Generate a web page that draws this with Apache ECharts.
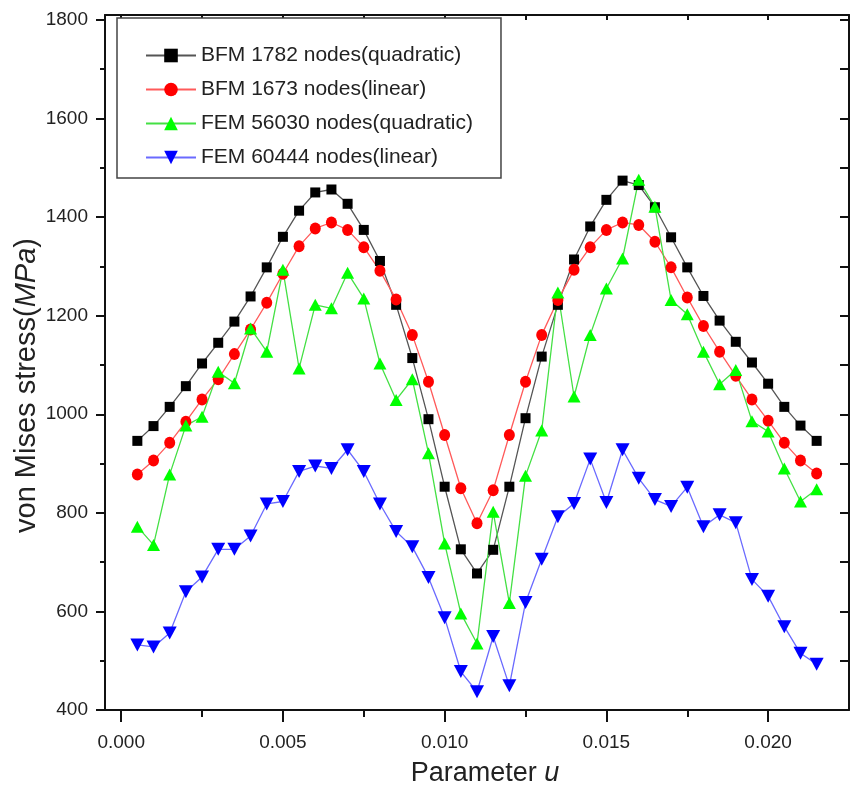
<!DOCTYPE html>
<html>
<head>
<meta charset="utf-8">
<script src="https://cdn.jsdelivr.net/npm/echarts@6/dist/echarts.min.js"></script>
<style>
html,body{margin:0;padding:0;background:#fff;}
#chart{width:850px;height:787px;}
</style>
</head>
<body>
<div id="chart"></div>
<script>
// Parameter u values
var u = [0.0005, 0.0010, 0.0015, 0.0020, 0.0025, 0.0030, 0.0035, 0.0040, 0.0045, 0.0050,
         0.0055, 0.0060, 0.0065, 0.0070, 0.0075, 0.0080, 0.0085, 0.0090, 0.0095, 0.0100,
         0.0105, 0.0110, 0.0115, 0.0120, 0.0125, 0.0130, 0.0135, 0.0140, 0.0145, 0.0150,
         0.0155, 0.0160, 0.0165, 0.0170, 0.0175, 0.0180, 0.0185, 0.0190, 0.0195, 0.0200,
         0.0205, 0.0210, 0.0215];

var bfmQuadratic = [946, 976, 1015, 1057, 1103, 1145, 1188, 1239, 1298, 1360,
                    1413, 1450, 1456, 1427, 1374, 1311, 1222, 1114, 990, 853,
                    726, 677, 725, 853, 992, 1117, 1222, 1314, 1381, 1435,
                    1474, 1465, 1420, 1359, 1298, 1240, 1190, 1147, 1105, 1062,
                    1015, 977, 946];

var bfmLinear = [878, 906, 942, 985, 1030, 1071, 1122, 1172, 1226, 1285,
                 1341, 1377, 1389, 1374, 1339, 1291, 1233, 1161, 1066, 958,
                 850, 779, 846, 958, 1066, 1161, 1232, 1293, 1339, 1374,
                 1389, 1384, 1350, 1298, 1237, 1179, 1127, 1078, 1030, 987,
                 942, 906, 880];

var femQuadratic = [772, 735, 878, 977, 995, 1086, 1063, 1174, 1127, 1293,
                    1093, 1222, 1215, 1287, 1235, 1103, 1029, 1071, 921, 738,
                    596, 535, 802, 617, 875, 967, 1247, 1036, 1161, 1255,
                    1316, 1476, 1421, 1232, 1203, 1127, 1061, 1090, 986, 965,
                    890, 823, 848];

var femLinear = [532, 528, 556, 640, 670, 726, 726, 753, 818, 823,
                 884, 895, 890, 928, 884, 818, 762, 731, 669, 587,
                 478, 437, 549, 449, 618, 706, 792, 819, 909, 821,
                 928, 870, 827, 813, 852, 772, 796, 780, 665, 631,
                 569, 515, 493];

var seriesNames = ['BFM 1782 nodes(quadratic)', 'BFM 1673 nodes(linear)',
                   'FEM 56030 nodes(quadratic)', 'FEM 60444 nodes(linear)'];

var xMajorTicks = [0.000, 0.005, 0.010, 0.015, 0.020];
var xMinorTicks = [0.0025, 0.0075, 0.0125, 0.0175];
var xAllTicks = [0.000, 0.0025, 0.005, 0.0075, 0.010, 0.0125, 0.015, 0.0175, 0.020];
var yMajorTicks = [400, 600, 800, 1000, 1200, 1400, 1600, 1800];
var yMinorTicks = [500, 700, 900, 1100, 1300, 1500, 1700];
var yAllTicks = [400, 500, 600, 700, 800, 900, 1000, 1100, 1200, 1300, 1400, 1500, 1600, 1700, 1800];

function pairs(vals) { return vals.map(function (v, i) { return [u[i], v]; }); }

var FONT = "'Liberation Sans', Arial, sans-serif";
var XMIN = -0.0005, XMAX = 0.0225, YMIN = 400, YMAX = 1810;

var chart = echarts.init(document.getElementById('chart'), null, {renderer: 'canvas'});

var baseX = {type: 'value', min: XMIN, max: XMAX, splitLine: {show: false}};
var baseY = {type: 'value', min: YMIN, max: YMAX, splitLine: {show: false}};

var option = {
  backgroundColor: '#ffffff',
  animation: false,
  textStyle: {fontFamily: FONT},
  grid: {left: 105, right: 1, top: 15, bottom: 77, containLabel: false, outerBoundsMode: 'none'},
  legend: {
    orient: 'vertical',
    left: 117, top: 18,
    padding: [27, 28, 10, 28],
    itemGap: 13,
    itemWidth: 50, itemHeight: 17,
    borderColor: '#444', borderWidth: 1.5,
    backgroundColor: '#fff',
    textStyle: {fontSize: 21, color: '#222', fontFamily: FONT},
    data: seriesNames
  },
  xAxis: [
    Object.assign({}, baseX, {
      position: 'bottom',
      axisLine: {show: true, onZero: false, lineStyle: {color: '#111', width: 2}},
      axisTick: {show: true, inside: false, length: 12, customValues: xMajorTicks, lineStyle: {color: '#111', width: 2}},
      axisLabel: {show: true, customValues: xMajorTicks, margin: 23, fontSize: 19, color: '#222', fontFamily: FONT,
                  formatter: function (v) { return v.toFixed(3); }},
      name: '{a|Parameter }{i|u}',
      nameLocation: 'middle', nameGap: 50, nameMoveOverlap: false,
      nameTextStyle: {fontSize: 27, color: '#222', fontFamily: FONT, padding: [0, 0, 0, 16],
        rich: {a: {fontSize: 27, color: '#222', fontFamily: FONT},
               i: {fontSize: 27, color: '#222', fontFamily: FONT, fontStyle: 'italic'}}}
    }),
    Object.assign({}, baseX, {
      position: 'bottom',
      axisLine: {show: false, onZero: false},
      axisTick: {show: true, inside: false, length: 7, customValues: xMinorTicks, lineStyle: {color: '#111', width: 2}},
      axisLabel: {show: false}
    }),
    Object.assign({}, baseX, {
      position: 'top',
      axisLine: {show: true, onZero: false, lineStyle: {color: '#111', width: 2}},
      axisTick: {show: true, inside: true, length: 5, customValues: xAllTicks, lineStyle: {color: '#111', width: 2}},
      axisLabel: {show: false}
    })
  ],
  yAxis: [
    Object.assign({}, baseY, {
      position: 'left',
      axisLine: {show: true, onZero: false, lineStyle: {color: '#111', width: 2}},
      axisTick: {show: true, inside: false, length: 9, customValues: yMajorTicks, lineStyle: {color: '#111', width: 2}},
      axisLabel: {show: true, customValues: yMajorTicks, margin: 17, fontSize: 19, color: '#222', fontFamily: FONT,
                  formatter: function (v) { return String(v); }},
      name: '{a|von Mises stress(}{i|MPa}{a|)}',
      nameLocation: 'middle', nameGap: 64, nameRotate: 90, nameMoveOverlap: false,
      nameTextStyle: {fontSize: 29, color: '#222', fontFamily: FONT, padding: [0, 46, 0, 0],
        rich: {a: {fontSize: 29, color: '#222', fontFamily: FONT},
               i: {fontSize: 29, color: '#222', fontFamily: FONT, fontStyle: 'italic'}}}
    }),
    Object.assign({}, baseY, {
      position: 'left',
      axisLine: {show: false, onZero: false},
      axisTick: {show: true, inside: false, length: 5, customValues: yMinorTicks, lineStyle: {color: '#111', width: 2}},
      axisLabel: {show: false}
    }),
    Object.assign({}, baseY, {
      position: 'right',
      axisLine: {show: true, onZero: false, lineStyle: {color: '#111', width: 2}},
      axisTick: {show: true, inside: true, length: 9, customValues: yAllTicks, lineStyle: {color: '#111', width: 2}},
      axisLabel: {show: false}
    })
  ],
  series: [
    {
      name: seriesNames[0], type: 'line', xAxisIndex: 0, yAxisIndex: 0,
      data: pairs(bfmQuadratic),
      symbol: 'rect', symbolSize: [10, 10],
      itemStyle: {color: '#000'},
      lineStyle: {color: '#555', width: 1.3}
    },
    {
      name: seriesNames[1], type: 'line', xAxisIndex: 0, yAxisIndex: 0,
      data: pairs(bfmLinear),
      symbol: 'circle', symbolSize: [11, 12],
      itemStyle: {color: '#ff0000'},
      lineStyle: {color: '#ff5a5a', width: 1.3}
    },
    {
      name: seriesNames[2], type: 'line', xAxisIndex: 0, yAxisIndex: 0,
      data: pairs(femQuadratic),
      symbol: 'triangle', symbolSize: [13, 12],
      itemStyle: {color: '#00ff00'},
      lineStyle: {color: '#44e044', width: 1.3}
    },
    {
      name: seriesNames[3], type: 'line', xAxisIndex: 0, yAxisIndex: 0,
      data: pairs(femLinear),
      symbol: 'path://M0,0 L10,0 L5,8.66 Z', symbolSize: [14, 13],
      itemStyle: {color: '#0000ff'},
      lineStyle: {color: '#6a6aff', width: 1.3}
    }
  ]
};

chart.setOption(option);
</script>
</body>
</html>
